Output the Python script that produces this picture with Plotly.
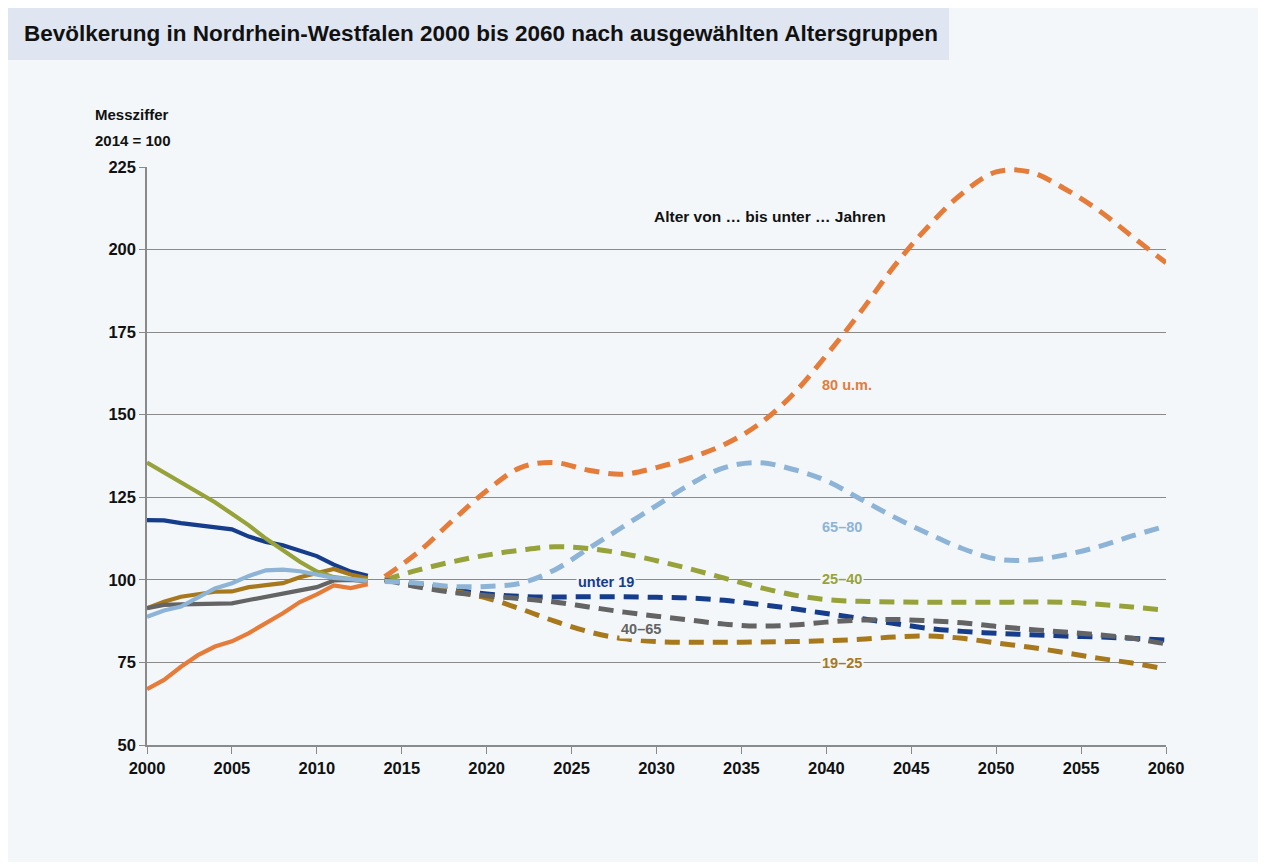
import plotly.graph_objects as go

# Bevölkerung NRW, Messziffer 2014 = 100
hist_years = list(range(2000, 2014))
proj_years = list(range(2014, 2061, 2))

SERIES = ['unter 19', '19-25', '25-40', '40-65', '65-80', '80 u.m.']

hist_u19 = [118.1, 118.0, 117.2, 116.6, 115.9, 115.3, 113.1, 111.5, 110.5, 109.0, 107.2, 104.6, 102.5, 101.2]
hist_19_25 = [91.4, 93.4, 94.9, 95.8, 96.4, 96.5, 97.8, 98.4, 99.0, 100.8, 102.2, 103.3, 101.6, 100.5]
hist_25_40 = [135.5, 132.5, 129.3, 126.5, 123.5, 120.0, 116.5, 112.5, 109.0, 105.5, 102.5, 100.8, 100.2, 100.0]
hist_40_65 = [91.4, 92.4, 92.6, 92.7, 92.8, 92.9, 93.9, 94.9, 95.9, 96.8, 97.8, 99.8, 100.0, 99.5]
hist_65_80 = [88.8, 90.7, 91.9, 94.8, 97.4, 99.0, 101.2, 102.9, 103.1, 102.6, 101.6, 100.6, 100.2, 99.6]
hist_80 = [66.9, 69.7, 73.7, 77.2, 79.8, 81.4, 83.9, 86.8, 89.9, 93.3, 95.6, 98.3, 97.5, 98.7]

proj_u19 = [100.0, 98.5, 97.0, 95.7, 95.0, 94.8, 94.9, 94.9, 94.7, 94.5, 93.8, 92.6,
            91.3, 89.8, 88.3, 86.8, 85.3, 84.4, 83.8, 83.4, 83.0, 82.7, 82.3, 81.8]
proj_19_25 = [100.0, 98.6, 96.6, 94.5, 91.2, 87.5, 84.3, 82.2, 81.3, 81.1, 81.1, 81.2,
              81.3, 81.6, 82.0, 82.7, 83.0, 82.3, 80.9, 79.6, 78.0, 76.3, 74.8, 73.0]
proj_25_40 = [100.0, 103.0, 105.5, 107.5, 109.0, 110.0, 109.5, 108.0, 105.8, 103.3, 100.5, 97.8,
              95.5, 94.0, 93.5, 93.3, 93.2, 93.2, 93.2, 93.3, 93.2, 92.6, 91.8, 90.8]
proj_40_65 = [100.0, 97.8, 96.2, 95.2, 94.3, 93.3, 91.8, 90.3, 89.0, 87.8, 86.6, 86.0,
              86.3, 87.2, 87.8, 88.0, 87.6, 87.0, 85.9, 85.0, 84.2, 83.4, 82.3, 80.6]
proj_65_80 = [99.5, 99.0, 98.0, 98.0, 99.0, 103.0, 109.5, 116.0, 122.5, 129.0, 134.0, 135.5,
              133.5, 130.0, 124.5, 119.0, 114.0, 109.5, 106.3, 106.0, 107.5, 110.0, 113.3, 116.3]
proj_80 = [101.0, 108.5, 118.0, 127.0, 134.0, 135.5, 133.2, 132.0, 134.0, 137.0, 141.0, 147.0,
           156.0, 168.0, 181.0, 195.0, 207.0, 217.0, 223.5, 223.5, 218.5, 212.0, 204.0, 196.0]

# label text, x (year), y (index)
labels = ['unter 19', '19–25', '25–40', '40–65', '65–80', '80 u.m.']
label_x = [2027.0, 2040.9, 2040.9, 2029.1, 2040.9, 2041.2]
label_y = [99.3, 74.8, 100.3, 85.1, 116.0, 159.0]

COLORS = ['#163d8c', '#a7781c', '#97a23a', '#646464', '#8db4d6', '#e57c3a']

FONT = 'Liberation Sans, Arial, sans-serif'
PANEL = '#f3f7fa'

hist = [hist_u19, hist_19_25, hist_25_40, hist_40_65, hist_65_80, hist_80]
proj = [proj_u19, proj_19_25, proj_25_40, proj_40_65, proj_65_80, proj_80]

# page has an 8px body margin; plot area on page: x 147..1166, y 167..745
OFF = 8
W, H = 1266 - OFF, 864 - OFF
L, R, T, B = 147 - OFF, 100, 167 - OFF, 119
PW, PH = W - L - R, H - T - B


def px(x):
    return (x - OFF - L) / PW


def py(y):
    return (H - B - (y - OFF)) / PH


fig = go.Figure()

for i, name in enumerate(SERIES):
    fig.add_trace(go.Scatter(
        x=hist_years, y=hist[i], mode='lines', name=name,
        line=dict(color=COLORS[i], width=4.2),
        showlegend=False
    ))

for i, name in enumerate(SERIES):
    fig.add_trace(go.Scatter(
        x=proj_years, y=proj[i], mode='lines', name=name,
        line=dict(color=COLORS[i], width=5, dash='15px,9px', shape='spline', smoothing=1.0),
        showlegend=False
    ))

# background panel and title box
fig.add_shape(type='rect', xref='paper', yref='paper', layer='below',
              x0=px(0), x1=px(1270), y0=py(862), y1=py(0),
              fillcolor=PANEL, line_width=0)
fig.add_shape(type='rect', xref='paper', yref='paper', layer='below',
              x0=px(0), x1=px(949), y0=py(60), y1=py(0),
              fillcolor='#dfe6f1', line_width=0)

fig.add_annotation(x=px(22), y=py(33), xref='paper', yref='paper',
                   xanchor='left', yanchor='middle', showarrow=False,
                   text='<b>Bevölkerung in Nordrhein-Westfalen 2000 bis 2060 nach ausgewählten Altersgruppen</b>',
                   font=dict(family=FONT, size=22.5, color='#111111'))

fig.add_annotation(x=px(93), y=py(115), xref='paper', yref='paper',
                   xanchor='left', yanchor='middle', showarrow=False,
                   text='<b>Messziffer</b>', font=dict(family=FONT, size=15, color='#111111'))
fig.add_annotation(x=px(93), y=py(140), xref='paper', yref='paper',
                   xanchor='left', yanchor='middle', showarrow=False,
                   text='<b>2014 = 100</b>', font=dict(family=FONT, size=15, color='#111111'))

fig.add_annotation(x=2036.7, y=210, showarrow=False,
                   text='<b>Alter von … bis unter … Jahren</b>',
                   font=dict(family=FONT, size=15.5, color='#111111'))

for i, t in enumerate(labels):
    fig.add_annotation(x=label_x[i], y=label_y[i], showarrow=False,
                       text='<b>' + t + '</b>', bgcolor=PANEL, borderpad=1,
                       font=dict(family=FONT, size=14.5, color=COLORS[i]))

fig.update_layout(
    width=W, height=H,
    margin=dict(l=L, r=R, t=T, b=B),
    paper_bgcolor='white',
    plot_bgcolor=PANEL,
    font=dict(family=FONT, color='#111111'),
    showlegend=False,
    xaxis=dict(
        range=[2000, 2060], tickmode='linear', tick0=2000, dtick=5,
        showgrid=False, zeroline=False,
        showline=True, linecolor='#8a8a8a', linewidth=2,
        ticks='outside', ticklen=7, tickcolor='#8a8a8a', tickwidth=1,
        tickfont=dict(family=FONT, size=16.5, color='#111111'),
        tickprefix='<b>', ticksuffix='</b>'
    ),
    yaxis=dict(
        range=[50, 225], tickmode='linear', tick0=50, dtick=25,
        showgrid=True, gridcolor='#8a8a8a', gridwidth=1.3, zeroline=False,
        showline=True, linecolor='#8a8a8a', linewidth=1.5,
        ticks='outside', ticklen=6, tickcolor='#8a8a8a', tickwidth=1,
        tickfont=dict(family=FONT, size=16.5, color='#111111'),
        tickprefix='<b>', ticksuffix='</b>'
    ),
)

fig.write_html('out.html')
